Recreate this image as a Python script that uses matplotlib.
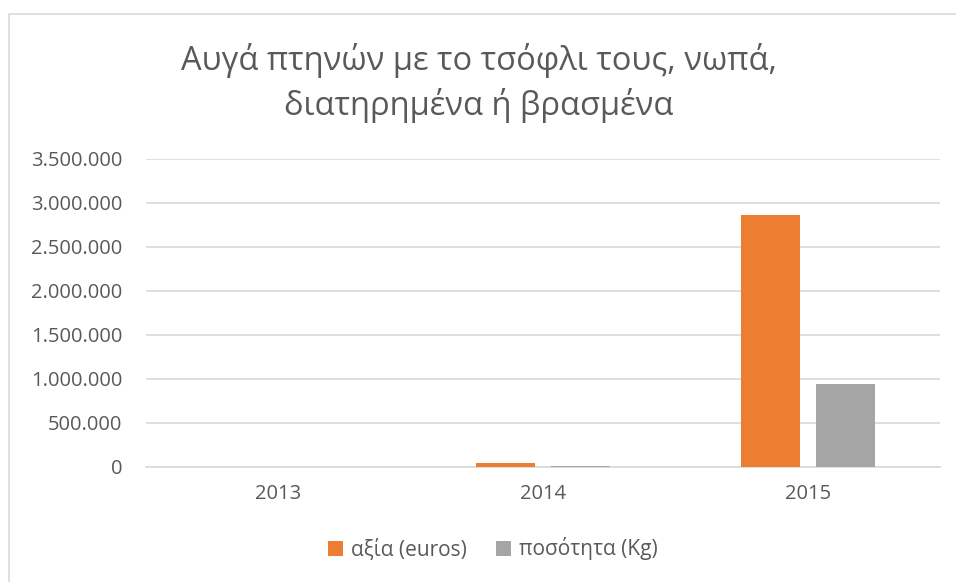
import matplotlib
matplotlib.use("Agg")
import matplotlib.pyplot as plt
from matplotlib.patches import Rectangle
from matplotlib.ticker import FuncFormatter, MultipleLocator
import numpy as np

plt.rcParams['font.family'] = ['Open Sans', 'Noto Sans', 'DejaVu Sans']

years = ["2013", "2014", "2015"]
value_euros = [0, 45000, 2864000]
quantity_kg = [0, 15000, 943000]
series_names = ["αξία (euros)", "ποσότητα (Kg)"]
title = "Αυγά πτηνών με το τσόφλι τους, νωπά,\nδιατηρημένα ή βρασμένα"

ORANGE = "#ED7D31"
GRAY = "#A5A5A5"
TEXT = "#595959"
GRID = "#D9D9D9"

fig = plt.figure(figsize=(9.56, 5.82), dpi=100)
fig.patch.set_facecolor("white")
# chart frame
fig.patches.append(Rectangle((9/956, -0.05), 1.2, (582-13.5)/582 + 0.05,
                             transform=fig.transFigure, fill=False,
                             edgecolor=GRID, linewidth=1.2, zorder=0))

ax = fig.add_axes([146/956, (582-467)/582, (940-146)/956, (467-159)/582])
x = np.arange(len(years))
w = 0.223
off = 0.142
ax.bar(x - off, value_euros, width=w, color=ORANGE, label=series_names[0], zorder=3)
ax.bar(x + off, quantity_kg, width=w, color=GRAY, label=series_names[1], zorder=3)

ax.set_xlim(-0.5, 2.5)
ax.set_ylim(0, 3500000)
ax.yaxis.set_major_locator(MultipleLocator(500000))
ax.yaxis.set_major_formatter(FuncFormatter(lambda v, p: f"{int(round(v)):,}".replace(",", ".")))
ax.set_xticks(x)
ax.set_xticklabels(years)
ax.grid(axis="y", color=GRID, linewidth=1.2, zorder=0)
for s in ["top", "right", "left"]:
    ax.spines[s].set_visible(False)
ax.spines["bottom"].set_color(GRID)
ax.spines["bottom"].set_linewidth(1.2)
ax.tick_params(axis="both", length=0, labelsize=14.5, labelcolor=TEXT)
ax.tick_params(axis="y", pad=17)
ax.tick_params(axis="x", pad=12)

fig.text(479/956, 1 - 83/582, title, ha="center", va="center", fontsize=23.5,
         color=TEXT, linespacing=1.35)

leg = fig.legend(loc="center", bbox_to_anchor=(493/956, 1 - 549/582), ncol=2,
                 frameon=False, fontsize=15, handlelength=0.7, handleheight=0.7,
                 handletextpad=0.4, columnspacing=1.4)
for t in leg.get_texts():
    t.set_color(TEXT)

fig.savefig("out.png", dpi=100, facecolor="white")
